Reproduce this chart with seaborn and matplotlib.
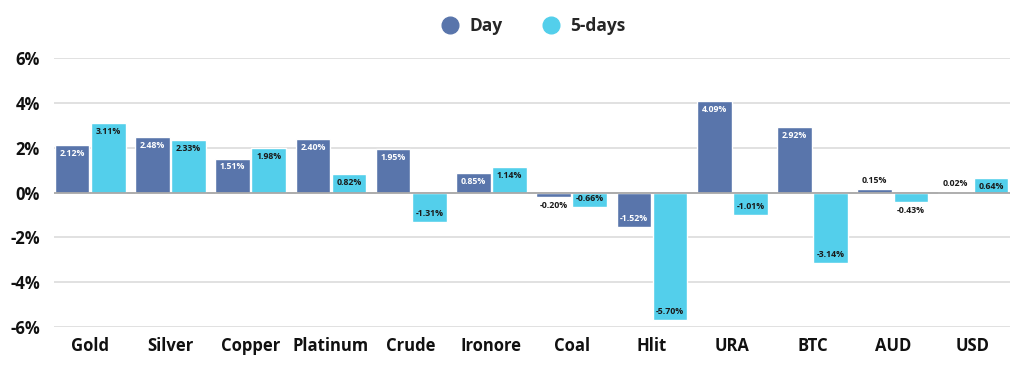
import pandas as pd
import seaborn as sns
import matplotlib.pyplot as plt
from matplotlib.lines import Line2D
from matplotlib.ticker import FuncFormatter

# data
assets = ["Gold", "Silver", "Copper", "Platinum", "Crude", "Ironore",
          "Coal", "Hlit", "URA", "BTC", "AUD", "USD"]
day = [2.12, 2.48, 1.51, 2.40, 1.95, 0.85, -0.20, -1.52, 4.09, 2.92, 0.15, 0.02]
five_days = [3.11, 2.33, 1.98, 0.82, -1.31, 1.14, -0.66, -5.70, -1.01, -3.14, -0.43, 0.64]
series = ["Day", "5-days"]
colors = ["#5975AB", "#53CFEB"]

df = pd.DataFrame({"asset": assets * 2,
                   "value": day + five_days,
                   "period": [series[0]] * len(assets) + [series[1]] * len(assets)})

sns.set_style("white")
plt.rcParams["font.family"] = ["Open Sans", "DejaVu Sans"]

fig = plt.figure(figsize=(10.24, 3.7), dpi=100)
ax = fig.add_axes([54 / 1024, 1 - 327 / 370, (1010 - 54) / 1024, (327 - 58) / 370])

sns.barplot(data=df, x="asset", y="value", hue="period", palette=colors,
            width=0.9, gap=0.04, legend=False, ax=ax, saturation=1)

ax.set_ylim(-6, 6)
ax.set_xlim(-0.45, 11.46)
ax.set_yticks([-6, -4, -2, 0, 2, 4, 6])
ax.yaxis.set_major_formatter(FuncFormatter(lambda v, p: f"{v:.0f}%"))
ax.grid(axis="y", color="#dcdcdc", linewidth=1.2)
ax.set_axisbelow(True)
ax.axhline(0, color="#a8a8a8", linewidth=1.3, zorder=3)
sns.despine(ax=ax, left=True, bottom=True, top=True, right=True)
ax.set_xlabel("")
ax.set_ylabel("")
ax.tick_params(axis="both", length=0)
ax.tick_params(axis="y", pad=10)
ax.tick_params(axis="x", pad=7)
for lab in ax.get_yticklabels() + ax.get_xticklabels():
    lab.set_fontweight("bold")
    lab.set_fontsize(12)
    lab.set_color("#111111")

# value labels
inside_colors = ["white", "#1a1a1a"]
for k, (cont, vals) in enumerate(zip(ax.containers, [day, five_days])):
    for bar, v in zip(cont, vals):
        xc = bar.get_x() + bar.get_width() / 2
        inside = abs(v) > 0.5
        sign = 1 if v >= 0 else -1
        if inside:
            off = -6 * sign
            col = inside_colors[k]
        else:
            off = 6 * sign
            col = "#1a1a1a"
        ax.annotate(f"{v:.2f}%", (xc, v), xytext=(0, off), textcoords="offset points",
                    ha="center", va="center", fontsize=6.3, fontweight="bold",
                    color=col, zorder=5)

handles = [Line2D([0], [0], marker="o", linestyle="", markersize=12,
                  markerfacecolor=c, markeredgecolor=c) for c in colors]
fig.legend(handles, series, loc="center", bbox_to_anchor=(0.517, 1 - 26 / 370),
           ncol=2, frameon=False, handletextpad=0.1, columnspacing=1.8,
           prop={"weight": "bold", "size": 12.5})

fig.savefig("out.png", dpi=100)
